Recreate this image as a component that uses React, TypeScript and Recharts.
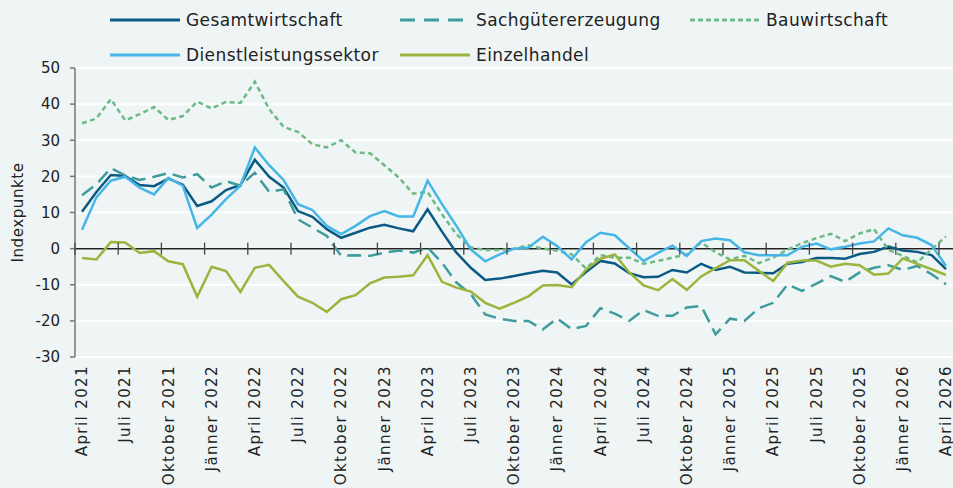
import { LineChart, Line, XAxis, YAxis, CartesianGrid, ReferenceLine } from "recharts";

const months = [
  "April 2021", "Mai 2021", "Juni 2021", "Juli 2021", "August 2021", "September 2021",
  "Oktober 2021", "November 2021", "Dezember 2021", "Jänner 2022", "Februar 2022", "März 2022",
  "April 2022", "Mai 2022", "Juni 2022", "Juli 2022", "August 2022", "September 2022",
  "Oktober 2022", "November 2022", "Dezember 2022", "Jänner 2023", "Februar 2023", "März 2023",
  "April 2023", "Mai 2023", "Juni 2023", "Juli 2023", "August 2023", "September 2023",
  "Oktober 2023", "November 2023", "Dezember 2023", "Jänner 2024", "Februar 2024", "März 2024",
  "April 2024", "Mai 2024", "Juni 2024", "Juli 2024", "August 2024", "September 2024",
  "Oktober 2024", "November 2024", "Dezember 2024", "Jänner 2025", "Februar 2025", "März 2025",
  "April 2025", "Mai 2025", "Juni 2025", "Juli 2025", "August 2025", "September 2025",
  "Oktober 2025", "November 2025", "Dezember 2025", "Jänner 2026", "Februar 2026", "März 2026",
  "April 2026",
];

const gesamtwirtschaft = [
  10.2, 15.7, 20.4, 20.1, 17.6, 17.3, 19.4, 17.7, 11.8, 13.1,
  16.2, 17.6, 24.6, 19.9, 16.9, 10.4, 8.8, 5.4, 3.0, 4.4,
  5.8, 6.6, 5.6, 4.8, 10.9, 4.7, -1.1, -5.3, -8.7, -8.3,
  -7.6, -6.8, -6.1, -6.6, -9.9, -6.5, -3.4, -4.1, -6.8, -7.9,
  -7.8, -5.9, -6.6, -4.2, -5.9, -5.0, -6.6, -6.7, -6.8, -4.2,
  -3.7, -2.6, -2.6, -2.8, -1.5, -0.9, 0.6, -0.5, -0.9, -1.8, -5.7,
];

const sachgueter = [
  14.8, 17.8, 22.3, 20.3, 19.0, 19.9, 20.9, 19.7, 20.6, 16.9,
  18.7, 17.4, 21.0, 15.7, 16.4, 8.1, 5.8, 3.5, -2.0, -1.8,
  -2.0, -1.1, -0.5, -1.1, 0.3, -3.9, -9.4, -12.6, -18.2, -19.4,
  -20.0, -20.0, -22.4, -19.3, -22.3, -21.4, -16.5, -18.0, -20.0, -17.0,
  -18.6, -18.6, -16.3, -15.9, -23.7, -19.4, -20.0, -16.5, -15.0, -9.9,
  -11.7, -9.7, -7.6, -9.2, -6.6, -5.3, -4.6, -5.9, -4.8, -7.1, -9.9,
];

const bauwirtschaft = [
  34.7, 36.0, 41.4, 35.5, 37.2, 39.2, 35.6, 36.7, 40.7, 38.8,
  40.6, 40.3, 46.2, 38.6, 33.7, 32.3, 28.9, 28.0, 30.0, 26.6,
  26.4, 23.1, 19.7, 15.2, 15.7, 9.5, 4.0, 0.3, -0.4, -0.4,
  0.0, 0.9, 0.0, -0.6, -1.6, -5.5, -1.8, -2.5, -2.5, -4.2,
  -3.4, -2.5, -1.6, 1.7, -1.0, -3.0, -2.0, -4.0, -2.5, -0.3,
  1.5, 2.9, 4.1, 2.1, 4.2, 5.4, -0.3, -2.0, -3.8, -0.2, 3.4,
];

const dienstleistung = [
  5.2, 14.2, 18.8, 19.9, 16.9, 15.0, 19.6, 17.4, 5.7, 9.4,
  13.7, 17.4, 28.0, 23.1, 19.0, 12.3, 10.7, 6.3, 4.0, 6.3,
  9.0, 10.4, 8.9, 8.9, 18.8, 12.3, 6.3, -0.2, -3.5, -1.6,
  0.0, 0.3, 3.3, 0.7, -3.0, 1.8, 4.4, 3.7, 0.1, -3.4,
  -1.2, 0.8, -2.0, 2.1, 2.8, 2.3, -1.0, -1.8, -1.8, -1.8,
  0.5, 1.4, -0.2, 0.5, 1.4, 2.0, 5.6, 3.7, 3.0, 1.0, -4.8,
];

const einzelhandel = [
  -2.6, -3.0, 1.8, 1.7, -1.2, -0.7, -3.5, -4.3, -13.3, -5.0,
  -6.2, -12.0, -5.3, -4.5, -9.0, -13.3, -15.0, -17.5, -14.0, -12.9,
  -9.6, -8.0, -7.8, -7.4, -1.8, -9.2, -10.8, -11.9, -15.0, -16.6,
  -15.0, -13.2, -10.2, -10.1, -10.7, -5.8, -2.8, -1.6, -6.6, -10.2,
  -11.5, -8.4, -11.4, -7.7, -5.4, -3.2, -3.2, -6.1, -9.0, -3.9,
  -3.3, -3.3, -5.0, -4.2, -4.6, -7.2, -6.9, -2.7, -4.2, -5.7, -7.3,
];

const yTicks = [-30, -20, -10, 0, 10, 20, 30, 40, 50];

const series = [
  { key: "gesamt", name: "Gesamtwirtschaft", values: gesamtwirtschaft, color: "#0b5a84", dash: undefined, legendDash: undefined },
  { key: "sach", name: "Sachgütererzeugung", values: sachgueter, color: "#3f9b9c", dash: "14 7", legendDash: "15 9" },
  { key: "bau", name: "Bauwirtschaft", values: bauwirtschaft, color: "#6cba85", dash: "5 3.5", legendDash: "5 3" },
  { key: "dienst", name: "Dienstleistungssektor", values: dienstleistung, color: "#46b6e6", dash: undefined, legendDash: undefined },
  { key: "einzel", name: "Einzelhandel", values: einzelhandel, color: "#9bb43c", dash: undefined, legendDash: undefined },
];

const data = months.map((m, i) => {
  const row: Record<string, string | number> = { month: m };
  series.forEach((s) => (row[s.key] = s.values[i]));
  return row;
});

const W = 953;
const H = 488;
const TOP = 68;
const BOTTOM = 357;
const PAD = 7;
const ZERO_Y = TOP + (50 / 80) * (BOTTOM - TOP);
const FONT = "'DejaVu Sans', sans-serif";

function MonthTick({ x, y, payload }: any) {
  return (
    <g>
      <line x1={x - PAD} x2={x - PAD} y1={ZERO_Y - 6} y2={ZERO_Y + 6} stroke="#444" strokeWidth={1.3} />
      <text
        x={x}
        y={y}
        transform={`rotate(-90 ${x} ${y})`}
        textAnchor="end"
        dx={-8}
        dy="0.35em"
        fontSize={15}
        letterSpacing={1.4}
        fill="#222"
      >
        {payload.value}
      </text>
    </g>
  );
}

function LegendItem({ s, left, top }: any) {
  return (
    <div style={{ position: "absolute", left, top, display: "flex", alignItems: "center", height: 20 }}>
      <svg width={70} height={10} style={{ marginRight: 6 }}>
        <line x1={0} x2={70} y1={5} y2={5} stroke={s.color} strokeWidth={3} strokeDasharray={s.legendDash} />
      </svg>
      <span style={{ fontSize: 17, letterSpacing: 0.4, color: "#222", whiteSpace: "nowrap" }}>{s.name}</span>
    </div>
  );
}

export default function App() {
  const cols = [110, 400, 690];
  return (
    <div
      style={{
        position: "absolute",
        left: 0,
        top: 0,
        width: W,
        height: H,
        background: "#eff5f5",
        fontFamily: FONT,
        overflow: "hidden",
      }}
    >
      <LineChart width={W} height={H} data={data} margin={{ top: TOP, right: 0, bottom: H - BOTTOM - 125, left: 10 }}>
        <CartesianGrid vertical={false} stroke="#ffffff" strokeWidth={2} />
        <XAxis
          dataKey="month"
          interval={2}
          height={125}
          padding={{ left: PAD, right: PAD }}
          tickLine={false}
          axisLine={false}
          tickSize={0}
          tickMargin={0}
          tick={<MonthTick />}
        />
        <YAxis
          domain={[-30, 50]}
          ticks={yTicks}
          interval={0}
          width={65}
          tickSize={5}
          tickMargin={10}
          tick={{ fill: "#222", fontSize: 15 }}
          tickLine={{ stroke: "#777", strokeWidth: 1.5 }}
          axisLine={{ stroke: "#777", strokeWidth: 1.5 }}
          label={{ value: "Indexpunkte", angle: -90, position: "insideLeft", offset: 8, style: { textAnchor: "middle", fill: "#222", fontSize: 15, letterSpacing: 0.6 } }}
        />
        <ReferenceLine y={0} stroke="#222" strokeWidth={1.5} />
        {series.map((s) => (
          <Line
            key={s.key}
            dataKey={s.key}
            name={s.name}
            type="linear"
            stroke={s.color}
            strokeWidth={2.5}
            strokeDasharray={s.dash}
            dot={false}
            isAnimationActive={false}
          />
        ))}
      </LineChart>
      <LegendItem s={series[0]} left={cols[0]} top={10} />
      <LegendItem s={series[1]} left={cols[1]} top={10} />
      <LegendItem s={series[2]} left={cols[2]} top={10} />
      <LegendItem s={series[3]} left={cols[0]} top={45} />
      <LegendItem s={series[4]} left={cols[1]} top={45} />
    </div>
  );
}
